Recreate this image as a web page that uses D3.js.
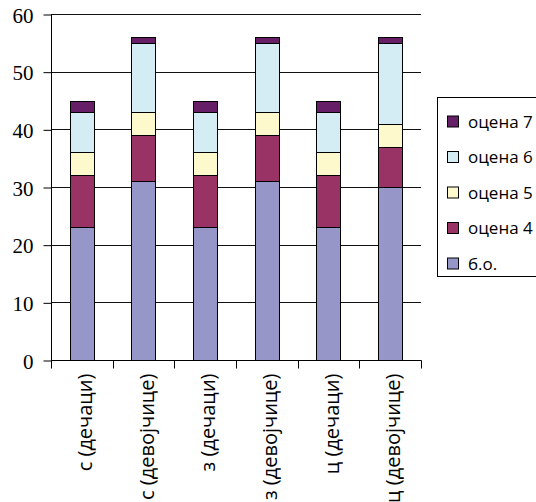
<!DOCTYPE html>
<html>
<head>
<meta charset="utf-8">
<script src="https://cdn.jsdelivr.net/npm/d3@7"></script>
<style>
  html, body { margin: 0; padding: 0; background: #fff; }
  svg { display: block; }
</style>
</head>
<body>
<svg id="chart" width="536" height="502"></svg>
<script>
// Categories (group, gender) and grade counts per category
const categories = ["с (дечаци)", "с (девојчице)", "з (дечаци)", "з (девојчице)", "ц (дечаци)", "ц (девојчице)"];
const seriesNames = ["б.о.", "оцена 4", "оцена 5", "оцена 6", "оцена 7"];
const bo     = [23, 31, 23, 31, 23, 30];
const ocena4 = [9, 8, 9, 8, 9, 7];
const ocena5 = [4, 4, 4, 4, 4, 4];
const ocena6 = [7, 12, 7, 12, 7, 14];
const ocena7 = [2, 1, 2, 1, 2, 1];
const yTicks = [0, 10, 20, 30, 40, 50, 60];
const colors = ["#9696c9", "#993366", "#fdf9cc", "#d4ecf3", "#661f66"];

const seriesValues = [bo, ocena4, ocena5, ocena6, ocena7];
const rows = categories.map((c, i) => {
  const r = { cat: c };
  seriesNames.forEach((s, k) => { r[s] = seriesValues[k][i]; });
  return r;
});
const stacked = d3.stack().keys(seriesNames)(rows);

const svg = d3.select("#chart");
const plotLeft = 51, plotRight = 421, plotTop = 14, plotBottom = 360;

const x = d3.scaleBand().domain(categories).range([plotLeft, plotRight]).paddingInner(0.61).paddingOuter(0.305);
const y = d3.scaleLinear().domain([0, 60]).range([plotBottom, plotTop]);
const color = d3.scaleOrdinal().domain(seriesNames).range(colors);

// horizontal gridlines
svg.append("g").selectAll("line").data(yTicks.filter(t => t > 0)).join("line")
  .attr("x1", plotLeft).attr("x2", plotRight)
  .attr("y1", d => Math.round(y(d)) + 0.5).attr("y2", d => Math.round(y(d)) + 0.5)
  .attr("stroke", "#111").attr("stroke-width", 1);

// stacked bars
svg.append("g").selectAll("g").data(stacked).join("g")
  .attr("fill", d => color(d.key))
  .selectAll("rect").data(d => d).join("rect")
  .attr("x", d => Math.round(x(d.data.cat)) + 0.5)
  .attr("width", Math.round(x.bandwidth()))
  .attr("y", d => Math.round(y(d[1])) + 0.5)
  .attr("height", d => Math.round(y(d[0])) - Math.round(y(d[1])))
  .attr("stroke", "#000").attr("stroke-width", 1);

// y axis
const yAxis = svg.append("g").attr("transform", `translate(${plotLeft + 0.5},0.5)`)
  .call(d3.axisLeft(y).tickValues(yTicks).tickSize(8).tickPadding(10).tickFormat(d3.format("d")));
yAxis.select(".domain").attr("stroke", "#000").attr("d", `M0,${y(60)}V${y(0)}`);
yAxis.selectAll(".tick line").attr("stroke", "#000");
yAxis.selectAll("text").attr("font-family", "'Liberation Serif', 'Times New Roman', serif")
  .attr("font-size", 21).attr("fill", "#000").attr("dy", "0.36em");

// x axis with ticks at category boundaries
const xAxis = svg.append("g").attr("transform", `translate(0,${plotBottom + 0.5})`);
xAxis.append("line").attr("x1", plotLeft).attr("x2", plotRight + 0.5).attr("stroke", "#000");
const step = x.step();
const bounds = d3.range(categories.length + 1).map(i => plotLeft + i * step);
xAxis.selectAll("line.tk").data(bounds).join("line").attr("class", "tk")
  .attr("x1", d => Math.round(d) + 0.5).attr("x2", d => Math.round(d) + 0.5)
  .attr("y1", 0).attr("y2", 8).attr("stroke", "#000");
xAxis.selectAll("text").data(categories).join("text")
  .attr("transform", d => `translate(${x(d) + x.bandwidth() / 2 + 3},13) rotate(-90)`)
  .attr("text-anchor", "end").attr("dy", "0.35em")
  .attr("font-family", "'Open Sans', 'Noto Sans', sans-serif").attr("font-size", 20)
  .attr("fill", "#000")
  .text(d => d);

// legend
const lg = svg.append("g");
lg.append("rect").attr("x", 437.5).attr("y", 97.5).attr("width", 200).attr("height", 179)
  .attr("fill", "#fff").attr("stroke", "#000");
const legendOrder = seriesNames.slice().reverse();
const item = lg.selectAll("g.it").data(legendOrder).join("g").attr("class", "it")
  .attr("transform", (d, i) => `translate(447,${121.5 + i * 35.5})`);
item.append("rect").attr("x", 0.5).attr("y", -5.5).attr("width", 11).attr("height", 11)
  .attr("fill", d => color(d)).attr("stroke", "#000");
item.append("text").attr("x", 21).attr("dy", "0.36em")
  .attr("font-family", "'Open Sans', 'Noto Sans', sans-serif").attr("font-size", 17)
  .attr("fill", "#000").text(d => d);
</script>
</body>
</html>
